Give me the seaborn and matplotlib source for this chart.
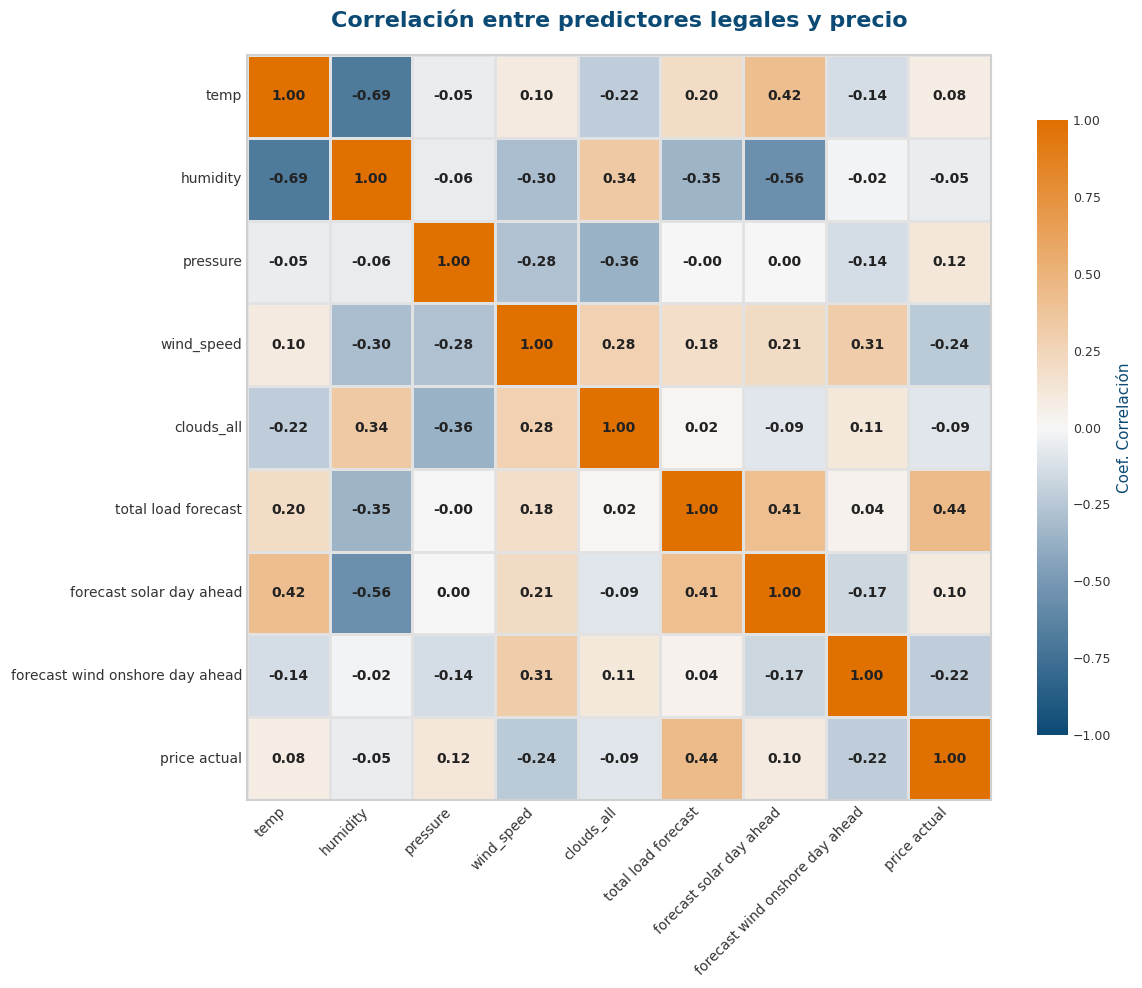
import numpy as np
import pandas as pd
import matplotlib
matplotlib.use("Agg")
import matplotlib.pyplot as plt
import seaborn as sns
from matplotlib.colors import LinearSegmentedColormap

variables = ["temp", "humidity", "pressure", "wind_speed", "clouds_all",
             "total load forecast", "forecast solar day ahead",
             "forecast wind onshore day ahead", "price actual"]

row_temp = [1.00, -0.69, -0.05, 0.10, -0.22, 0.20, 0.42, -0.14, 0.08]
row_humidity = [-0.69, 1.00, -0.06, -0.30, 0.34, -0.35, -0.56, -0.02, -0.05]
row_pressure = [-0.05, -0.06, 1.00, -0.28, -0.36, -0.004, 0.004, -0.14, 0.12]
row_wind_speed = [0.10, -0.30, -0.28, 1.00, 0.28, 0.18, 0.21, 0.31, -0.24]
row_clouds_all = [-0.22, 0.34, -0.36, 0.28, 1.00, 0.02, -0.09, 0.11, -0.09]
row_total_load = [0.20, -0.35, -0.004, 0.18, 0.02, 1.00, 0.41, 0.04, 0.44]
row_solar = [0.42, -0.56, 0.004, 0.21, -0.09, 0.41, 1.00, -0.17, 0.10]
row_wind_onshore = [-0.14, -0.02, -0.14, 0.31, 0.11, 0.04, -0.17, 1.00, -0.22]
row_price = [0.08, -0.05, 0.12, -0.24, -0.09, 0.44, 0.10, -0.22, 1.00]

corr = pd.DataFrame([row_temp, row_humidity, row_pressure, row_wind_speed,
                     row_clouds_all, row_total_load, row_solar,
                     row_wind_onshore, row_price],
                    index=variables, columns=variables)

sns.set_style("white")
plt.rcParams['font.family'] = ['DejaVu Sans']

cmap = LinearSegmentedColormap.from_list(
    "bo", [(0.0, "#0B4A75"), (0.25, "#7898B4"), (0.5, "#F7F7F7"), (1.0, "#E07000")])

fig = plt.figure(figsize=(11.42, 9.88), dpi=100)
ax = fig.add_axes([0.2163, 0.1903, 0.6515, 0.754])
cax = fig.add_axes([0.908, 0.256, 0.0271, 0.6225])

sns.heatmap(corr, ax=ax, cbar_ax=cax, cmap=cmap, vmin=-1, vmax=1,
            annot=True, fmt=".2f",
            annot_kws={"fontsize": 10, "fontweight": "bold", "color": "#222222"},
            linewidths=2, linecolor="#E2E2E2",
            cbar_kws={"ticks": [-1, -0.75, -0.5, -0.25, 0, 0.25, 0.5, 0.75, 1]})

for s in ax.spines.values():
    s.set_visible(True)
    s.set_color("#D0D0D0")
    s.set_linewidth(1.5)

ax.set_xlabel("")
ax.set_ylabel("")
ax.tick_params(axis="both", length=0, labelsize=10, labelcolor="#333333")
plt.setp(ax.get_xticklabels(), rotation=45, ha="right")
plt.setp(ax.get_yticklabels(), rotation=0)

cax.tick_params(labelsize=9, labelcolor="#333333", length=0)
cax.set_ylabel("Coef. Correlación", fontsize=11, color="#0B4A75")
for s in cax.spines.values():
    s.set_visible(False)

ax.set_title("Correlación entre predictores legales y precio", fontsize=16,
             fontweight="bold", color="#0B4A75", pad=20)

fig.savefig("out.png", dpi=100)
